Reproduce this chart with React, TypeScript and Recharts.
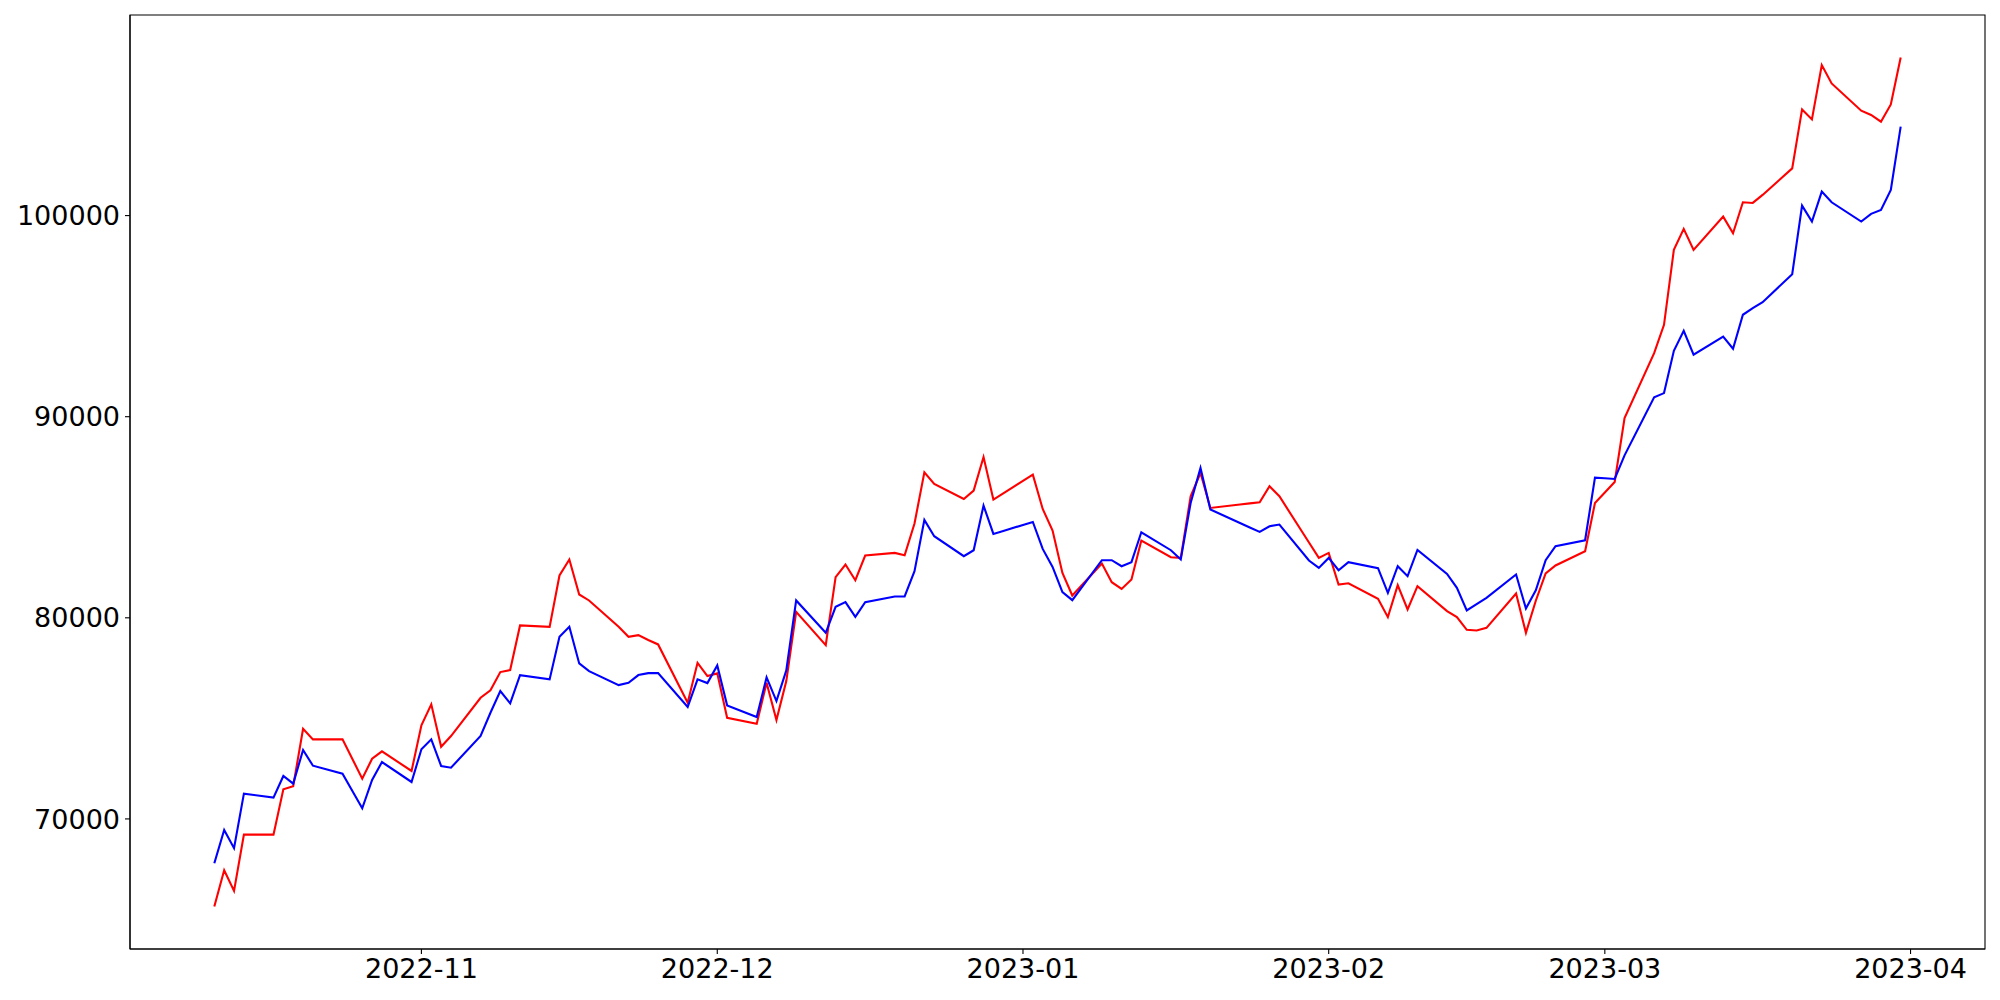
import { LineChart, Line, XAxis, YAxis, ReferenceArea } from "recharts";

// trading days, Oct 2022 - Mar 2023
const dates = [
    "2022-10-11", "2022-10-12", "2022-10-13", "2022-10-14",
    "2022-10-17", "2022-10-18", "2022-10-19", "2022-10-20", "2022-10-21",
    "2022-10-24", "2022-10-25", "2022-10-26", "2022-10-27", "2022-10-28",
    "2022-10-31", "2022-11-01", "2022-11-02", "2022-11-03", "2022-11-04",
    "2022-11-07", "2022-11-08", "2022-11-09", "2022-11-10", "2022-11-11",
    "2022-11-14", "2022-11-15", "2022-11-16", "2022-11-17", "2022-11-18",
    "2022-11-21", "2022-11-22", "2022-11-23", "2022-11-24", "2022-11-25",
    "2022-11-28", "2022-11-29", "2022-11-30", "2022-12-01", "2022-12-02",
    "2022-12-05", "2022-12-06", "2022-12-07", "2022-12-08", "2022-12-09",
    "2022-12-12", "2022-12-13", "2022-12-14", "2022-12-15", "2022-12-16",
    "2022-12-19", "2022-12-20", "2022-12-21", "2022-12-22", "2022-12-23",
    "2022-12-26", "2022-12-27", "2022-12-28", "2022-12-29", "2022-12-30",
    "2023-01-02", "2023-01-03", "2023-01-04", "2023-01-05", "2023-01-06",
    "2023-01-09", "2023-01-10", "2023-01-11", "2023-01-12", "2023-01-13",
    "2023-01-16", "2023-01-17", "2023-01-18", "2023-01-19", "2023-01-20",
    "2023-01-23", "2023-01-24", "2023-01-25", "2023-01-26", "2023-01-27",
    "2023-01-30", "2023-01-31", "2023-02-01", "2023-02-02", "2023-02-03",
    "2023-02-06", "2023-02-07", "2023-02-08", "2023-02-09", "2023-02-10",
    "2023-02-13", "2023-02-14", "2023-02-15", "2023-02-16", "2023-02-17",
    "2023-02-20", "2023-02-21", "2023-02-22", "2023-02-23", "2023-02-24",
    "2023-02-27", "2023-02-28", "2023-03-01", "2023-03-02", "2023-03-03",
    "2023-03-06", "2023-03-07", "2023-03-08", "2023-03-09", "2023-03-10",
    "2023-03-13", "2023-03-14", "2023-03-15", "2023-03-16", "2023-03-17",
    "2023-03-20", "2023-03-21", "2023-03-22", "2023-03-23", "2023-03-24",
    "2023-03-27", "2023-03-28", "2023-03-29", "2023-03-30", "2023-03-31",
];

const redSeries = [
    65643, 67451, 66423, 69220,
    69220, 71474, 71623, 74485, 73957,
    73957, 72980, 72002, 72994, 73362,
    72383, 74653, 75696, 73590, 74122,
    76024, 76392, 77301, 77400, 79620,
    79551, 82104, 82899, 81160, 80862,
    79551, 79054, 79139, 78895, 78677,
    75776, 77763, 77102, 77236, 75031,
    74733, 76769, 74917, 76854, 80296,
    78642, 82019, 82650, 81870, 83097,
    83226, 83112, 84687, 87235, 86654,
    85909, 86326, 87995, 85879, 86189,
    87120, 85412, 84339, 82233, 81110,
    82700, 81771, 81438, 81905, 83842,
    83013, 82978, 86043, 87200, 85462,
    85632, 85688, 85745, 86539, 86043,
    83746, 82978, 83226, 81657, 81720,
    80942, 80033, 81622, 80415, 81572,
    80331, 80033, 79402, 79372, 79501,
    81210, 79253, 80850, 82203, 82601,
    83311, 85710, 86232, 86753, 89932,
    93160, 94571, 98296, 99339, 98296,
    99950, 99121, 100661, 100629, 101028,
    102349, 105280, 104783, 107485, 106571,
    105215, 105002, 104669, 105528, 107863,
];

const blueSeries = [
    67799, 69453, 68543, 71256,
    71057, 72135, 71753, 73427, 72647,
    72249, 71390, 70530, 71936, 72830,
    71837, 73461, 73957, 72632, 72548,
    74122, 75279, 76357, 75746, 77152,
    76938, 79054, 79551, 77733, 77350,
    76655, 76769, 77152, 77251, 77251,
    75562, 76938, 76754, 77633, 75647,
    75066, 77037, 75860, 77385, 80862,
    79253, 80544, 80778, 80048, 80778,
    81061, 81061, 82317, 84866, 84056,
    83063, 83361, 85581, 84170, 84319,
    84766, 83425, 82531, 81274, 80877,
    82864, 82864, 82566, 82765, 84255,
    83361, 82899, 85710, 87448, 85382,
    84715, 84493, 84270, 84553, 84637,
    82849, 82481, 82978, 82367, 82770,
    82466, 81240, 82566, 82069, 83376,
    82183, 81488, 80365, 80678, 80991,
    82153, 80465, 81370, 82864, 83559,
    83857, 86972, 86937, 86902, 88079,
    90960, 91174, 93280, 94273, 93081,
    93980, 93379, 95068, 95396, 95694,
    97084, 100497, 99702, 101192, 100661,
    99702, 100084, 100283, 101276, 104421,
];

const monthTicks = ["2022-11-01", "2022-12-01", "2023-01-01", "2023-02-01", "2023-03-01", "2023-04-01"];
const yTicks = [70000, 80000, 90000, 100000];

const chartData = dates.map((d, i) => ({
    t: Date.parse(d),
    red: redSeries[i],
    blue: blueSeries[i],
}));

// matplotlib-like 5% padding around the data
const tMin = chartData[0].t;
const tMax = chartData[chartData.length - 1].t;
const xPad = (tMax - tMin) * 0.05;
const xDomain = [tMin - xPad, tMax + xPad];

const allValues = [...redSeries, ...blueSeries];
const yMin = Math.min(...allValues);
const yMax = Math.max(...allValues);
const yPad = (yMax - yMin) * 0.05;
const yDomain = [yMin - yPad, yMax + yPad];

const tickStyle = { fontSize: 27, fill: "#000", fontFamily: "DejaVu Sans" };

export default function App() {
    return (
        <div style={{ position: "absolute", left: 0, top: 0, background: "#fff" }}>
            <LineChart width={2000} height={1000} data={chartData} margin={{ top: 15, right: 15, left: 0, bottom: 0 }}>
                <XAxis
                    dataKey="t"
                    type="number"
                    domain={xDomain}
                    ticks={monthTicks.map((m) => Date.parse(m))}
                    tickFormatter={(v) => new Date(v).toISOString().slice(0, 7)}
                    height={51}
                    stroke="#000"
                    strokeWidth={1.1}
                    tickSize={5}
                    tickMargin={5}
                    tick={tickStyle}
                    allowDataOverflow
                />
                <YAxis
                    type="number"
                    domain={yDomain}
                    ticks={yTicks}
                    width={130}
                    stroke="#000"
                    strokeWidth={1.1}
                    tickSize={5}
                    tickMargin={5}
                    tick={tickStyle}
                    allowDataOverflow
                />
                {/* axes frame (top/right spines) */}
                <ReferenceArea
                    x1={xDomain[0]}
                    x2={xDomain[1]}
                    y1={yDomain[0]}
                    y2={yDomain[1]}
                    fill="none"
                    fillOpacity={0}
                    stroke="#000"
                    strokeWidth={1.1}
                    ifOverflow="visible"
                />
                <Line type="linear" dataKey="red" stroke="#ff0000" strokeWidth={2.1} dot={false} isAnimationActive={false} />
                <Line type="linear" dataKey="blue" stroke="#0000ff" strokeWidth={2.1} dot={false} isAnimationActive={false} />
            </LineChart>
        </div>
    );
}
